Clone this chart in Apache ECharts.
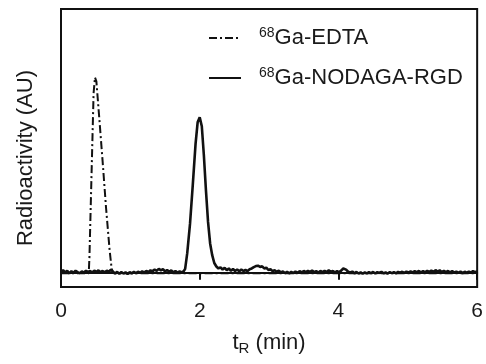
<!DOCTYPE html>
<html>
<head>
<meta charset="utf-8">
<script src="https://cdn.jsdelivr.net/npm/echarts@6/dist/echarts.min.js"></script>
<style>html,body{margin:0;padding:0;background:#fff}#c{width:486px;height:364px}</style>
</head>
<body>
<div id="c"></div>
<script>
// Data (time in min, radioactivity in arbitrary units)
const seriesNames = ['68Ga-EDTA', '68Ga-NODAGA-RGD'];
const xTicks = [0, 2, 4, 6];

const edtaTrace = [
  [0.00, -0.3], [0.40, -0.3], [0.41, 8], [0.44, 50], [0.47, 92], [0.49, 100], [0.51, 98],
  [0.55, 80], [0.60, 57], [0.65, 33], [0.70, 12], [0.73, 2], [0.76, -0.3], [6.00, -0.3]
];

const nodagaTrace = [
  [0.00, 0.5], [0.03, 1.3], [0.06, 0.2], [0.09, 1.0], [0.12, -0.3], [0.15, 0.8], [0.18, 0.0],
  [0.21, 1.0], [0.24, 0.3], [0.27, -0.2], [0.30, 0.7], [0.33, 0.1], [0.36, 1.0], [0.39, 0.4],
  [0.42, 0.9], [0.45, 0.1], [0.48, 1.1], [0.51, 0.4], [0.54, 1.2], [0.57, 0.3], [0.60, 0.9],
  [0.63, 0.2], [0.66, 1.0], [0.69, 0.5], [0.72, 1.6], [0.75, 0.4], [0.78, -0.3], [0.81, 0.4],
  [0.84, -0.5], [0.87, 0.3], [0.90, -0.4], [0.93, 0.2], [0.96, -0.6], [0.99, 0.3], [1.02, -0.3],
  [1.05, 0.4], [1.08, -0.2], [1.11, 0.5], [1.14, 0.0], [1.17, 0.7], [1.20, 0.2], [1.23, 0.9],
  [1.26, 0.4], [1.29, 1.2], [1.32, 0.8], [1.35, 1.6], [1.38, 1.0], [1.41, 2.0], [1.44, 1.2],
  [1.47, 1.8], [1.50, 0.7], [1.53, 1.4], [1.56, 0.5], [1.59, 1.2], [1.62, 0.2], [1.65, 0.9],
  [1.68, 0.1], [1.71, 0.7], [1.74, 0.2], [1.77, 0.8], [1.79, 2], [1.82, 10], [1.86, 25],
  [1.90, 45], [1.94, 66], [1.97, 77], [2.00, 79.6], [2.03, 75], [2.06, 60], [2.09, 42],
  [2.12, 26], [2.15, 15], [2.18, 9], [2.21, 5], [2.24, 3.2], [2.27, 2.2], [2.30, 2.8],
  [2.33, 1.6], [2.36, 2.5], [2.39, 1.3], [2.42, 2.2], [2.45, 1.0], [2.48, 1.9], [2.51, 0.9],
  [2.54, 1.7], [2.57, 0.8], [2.60, 1.6], [2.63, 0.9], [2.66, 1.4], [2.69, 0.8], [2.72, 1.8],
  [2.75, 2.2], [2.78, 2.9], [2.81, 3.4], [2.84, 3.6], [2.87, 3.0], [2.90, 3.3], [2.93, 2.2],
  [2.96, 2.6], [2.99, 1.4], [3.02, 1.8], [3.05, 0.8], [3.08, 1.3], [3.11, 0.5], [3.14, 1.0],
  [3.17, 0.2], [3.20, 0.7], [3.23, -0.2], [3.26, 0.5], [3.29, -0.3], [3.32, 0.4], [3.35, -0.2],
  [3.38, 0.6], [3.41, 0.0], [3.44, 0.8], [3.47, 0.2], [3.50, 0.9], [3.53, 0.3], [3.56, 1.0],
  [3.59, 0.4], [3.62, 1.1], [3.65, 0.3], [3.68, 0.8], [3.71, 0.1], [3.74, 0.9], [3.77, 0.3],
  [3.80, 1.0], [3.83, 0.4], [3.86, 1.2], [3.89, 0.5], [3.92, 0.9], [3.95, 0.2], [3.98, 0.8],
  [4.01, 0.3], [4.04, 1.1], [4.07, 2.2], [4.09, 3.0], [4.11, 1.6], [4.14, 0.5], [4.17, 0.1],
  [4.20, 0.6], [4.23, -0.3], [4.26, 0.4], [4.29, -0.4], [4.32, 0.2], [4.35, -0.5], [4.38, 0.2],
  [4.41, -0.3], [4.44, 0.3], [4.47, -0.2], [4.50, 0.4], [4.53, -0.4], [4.56, 0.3], [4.59, -0.1],
  [4.62, 0.5], [4.65, -0.3], [4.68, 0.2], [4.71, -0.4], [4.74, 0.3], [4.77, -0.2], [4.80, 0.3],
  [4.83, -0.3], [4.86, 0.4], [4.89, 0.0], [4.92, 0.5], [4.95, -0.1], [4.98, 0.6], [5.01, 0.1],
  [5.04, 0.7], [5.07, 0.2], [5.10, 0.8], [5.13, 0.3], [5.16, 0.9], [5.19, 0.2], [5.22, 0.8],
  [5.25, 0.3], [5.28, 1.0], [5.31, 0.4], [5.34, 1.1], [5.37, 0.5], [5.40, 1.3], [5.43, 0.6],
  [5.46, 1.2], [5.49, 0.4], [5.52, 1.0], [5.55, 0.3], [5.58, 0.9], [5.61, 0.2], [5.64, 0.8],
  [5.67, 0.1], [5.70, 0.6], [5.73, -0.1], [5.76, 0.6], [5.79, -0.2], [5.82, 0.5], [5.85, 0.0],
  [5.88, 0.6], [5.91, 0.1], [5.94, 0.8], [5.97, 0.3], [6.00, 0.7]
];

const FONT = '"Liberation Sans", Arial, Helvetica, sans-serif';
const chart = echarts.init(document.getElementById('c'), null, { renderer: 'canvas' });

chart.setOption({
  animation: false,
  backgroundColor: '#fff',
  textStyle: { fontFamily: FONT, color: '#1a1a1a' },
  grid: {
    left: 61, right: 5, top: 9, bottom: 77,
    show: true, borderColor: '#111', borderWidth: 2, backgroundColor: 'transparent'
  },
  legend: {
    orient: 'vertical',
    left: 208, top: 26, padding: 0,
    itemWidth: 32, itemHeight: 14, itemGap: 17,
    data: seriesNames,
    itemStyle: { opacity: 0 },
    formatter: function (name) {
      return '{s|' + name.slice(0, 2) + '}{t|' + name.slice(2) + '}';
    },
    textStyle: {
      fontFamily: FONT,
      padding: [0, 0, 0, 13],
      rich: {
        s: { fontSize: 14, lineHeight: 14, verticalAlign: 'top', color: '#1a1a1a', fontFamily: FONT },
        t: { fontSize: 22, lineHeight: 24, color: '#1a1a1a', fontFamily: FONT }
      }
    }
  },
  xAxis: {
    type: 'value', min: 0, max: 6, interval: 2,
    name: '{t|t}{b|R}{t| (min)}',
    nameLocation: 'middle', nameGap: 43,
    nameTextStyle: {
      rich: {
        t: { fontSize: 22, lineHeight: 26, color: '#1a1a1a', fontFamily: FONT },
        b: { fontSize: 15, lineHeight: 14, verticalAlign: 'bottom', color: '#1a1a1a', fontFamily: FONT }
      }
    },
    axisLine: { show: true, lineStyle: { color: '#111', width: 2 } },
    axisTick: { show: true, inside: false, length: 7, lineStyle: { color: '#111', width: 2 } },
    axisLabel: {
      fontSize: 21, color: '#1a1a1a', margin: 14, fontFamily: FONT,
      formatter: function (v) { return xTicks.indexOf(v) >= 0 ? String(v) : ''; }
    },
    splitLine: { show: false }
  },
  yAxis: {
    type: 'value', min: -7.3, max: 135,
    name: 'Radioactivity (AU)',
    nameLocation: 'middle', nameGap: 24,
    nameTextStyle: { fontSize: 22, color: '#1a1a1a', fontFamily: FONT, padding: [0, 20, 0, 0] },
    axisLine: { show: true, lineStyle: { color: '#111', width: 2 } },
    axisTick: { show: false },
    axisLabel: { show: false },
    splitLine: { show: false }
  },
  series: [
    {
      name: seriesNames[1], type: 'line', data: nodagaTrace,
      showSymbol: false, symbol: 'none', smooth: false,
      lineStyle: { color: '#111', width: 2.6 }, itemStyle: { color: '#111' }, z: 2
    },
    {
      name: seriesNames[0], type: 'line', data: edtaTrace,
      showSymbol: false, symbol: 'none', smooth: false,
      lineStyle: { color: '#111', width: 2, type: [8, 3, 2, 3] }, itemStyle: { color: '#111' }, z: 3
    }
  ]
});
</script>
</body>
</html>
